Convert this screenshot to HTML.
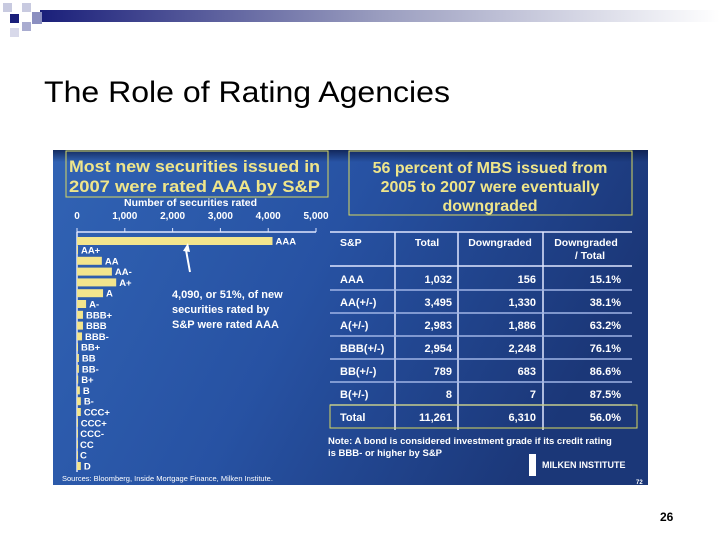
<!DOCTYPE html>
<html><head><meta charset="utf-8"><style>
body{margin:0;width:720px;height:540px;background:#fff;position:relative;overflow:hidden;font-family:"Liberation Sans",sans-serif}
svg text{font-family:"Liberation Sans",sans-serif}
</style></head><body>
<svg width="720" height="540">
<defs>
<linearGradient id="hb" x1="0" x2="1"><stop offset="0" stop-color="#1a1f7a"/><stop offset="0.5" stop-color="#9a9dbf"/><stop offset="1" stop-color="#ffffff"/></linearGradient>
<linearGradient id="bg" x1="0" y1="0" x2="1" y2="0.3"><stop offset="0" stop-color="#3163b4"/><stop offset="0.5" stop-color="#2752a3"/><stop offset="1" stop-color="#1b3778"/></linearGradient>
<linearGradient id="top" x1="0" y1="0" x2="0" y2="1"><stop offset="0" stop-color="#0d1d4a" stop-opacity="0.8"/><stop offset="1" stop-color="#0d1d4a" stop-opacity="0"/></linearGradient>
</defs>
<g>
<rect x="40" y="10" width="680" height="12" fill="url(#hb)"/>
<rect x="10" y="14" width="9" height="9" fill="#1a1f7a"/>
<rect x="3" y="3" width="9" height="9" fill="#c8cae0"/>
<rect x="22" y="3" width="9" height="9" fill="#c8cae0"/>
<rect x="22" y="22" width="9" height="9" fill="#a9acd0"/>
<rect x="32" y="12" width="10" height="12" fill="#8b8fc0"/>
<rect x="10" y="28" width="9" height="9" fill="#d8d9ea"/>
</g>
<text x="44" y="102" font-size="30" fill="#000" textLength="406" lengthAdjust="spacingAndGlyphs">The Role of Rating Agencies</text>
<g>
<rect x="53" y="150" width="595" height="335" fill="url(#bg)"/>
<rect x="53" y="150" width="595" height="12" fill="url(#top)"/>
<rect x="66" y="151" width="262" height="46" fill="none" stroke="#d8d860" stroke-width="1"/>
<text x="69" y="172" font-size="16.5" font-weight="bold" fill="#efe58a" textLength="251" lengthAdjust="spacingAndGlyphs">Most new securities issued in</text>
<text x="69" y="192" font-size="16.5" font-weight="bold" fill="#efe58a" textLength="251" lengthAdjust="spacingAndGlyphs">2007 were rated AAA by S&amp;P</text>
<text x="124" y="206" font-size="10.5" font-weight="bold" fill="#fff">Number of securities rated</text>
<g id="xt"></g>
<g id="bars"></g>
<line x1="186" y1="250" x2="190" y2="272" stroke="#fff" stroke-width="2"/>
<polygon points="183,251 188,243 190,252" fill="#fff"/>
<text x="172" y="298" font-size="11" font-weight="bold" fill="#fff">4,090, or 51%, of new</text>
<text x="172" y="313" font-size="11" font-weight="bold" fill="#fff">securities rated by</text>
<text x="172" y="328" font-size="11" font-weight="bold" fill="#fff">S&amp;P were rated AAA</text>
<text x="62" y="481" font-size="7.5" fill="#fff">Sources: Bloomberg, Inside Mortgage Finance, Milken Institute.</text>

<rect x="349" y="151" width="283" height="64" fill="none" stroke="#d8d860"/>
<text x="490" y="173" text-anchor="middle" font-size="16" font-weight="bold" fill="#efe58a">56 percent of MBS issued from</text>
<text x="490" y="192" text-anchor="middle" font-size="16" font-weight="bold" fill="#efe58a">2005 to 2007 were eventually</text>
<text x="490" y="211" text-anchor="middle" font-size="16" font-weight="bold" fill="#efe58a">downgraded</text>
<g id="tbl"></g>
<text x="328" y="444" font-size="9.5" font-weight="bold" fill="#fff">Note: A bond is considered investment grade if its credit rating</text>
<text x="328" y="456" font-size="9.5" font-weight="bold" fill="#fff">is BBB- or higher by S&amp;P</text>
<rect x="529" y="454" width="7" height="22" fill="#fff"/>
<text x="542" y="468" font-size="9" font-weight="bold" fill="#fff" font-family="Liberation Serif">MILKEN INSTITUTE</text>
<text x="636" y="484" font-size="6" font-weight="bold" fill="#fff">72</text>
</g>
<text x="660" y="521" font-size="12" font-weight="bold" fill="#000">26</text>
</svg>
<script>
const ratings=["AAA","AA+","AA","AA-","A+","A","A-","BBB+","BBB","BBB-","BB+","BB","BB-","B+","B","B-","CCC+","CCC+","CCC-","CC","C","D"];
const counts=[4090,20,520,730,820,545,190,125,125,105,20,40,40,25,60,80,80,15,5,0,0,80];
const ticks=[0,1000,2000,3000,4000,5000];
const tickLabels=["0","1,000","2,000","3,000","4,000","5,000"];
const tHead=["S&P","Total","Downgraded","Downgraded / Total"];
const tRat=["AAA","AA(+/-)","A(+/-)","BBB(+/-)","BB(+/-)","B(+/-)","Total"];
const tTotal=["1,032","3,495","2,983","2,954","789","8","11,261"];
const tDown=["156","1,330","1,886","2,248","683","7","6,310"];
const tPct=["15.1%","38.1%","63.2%","76.1%","86.6%","87.5%","56.0%"];
const NS="http://www.w3.org/2000/svg";
function mk(t,a,p,txt){const e=document.createElementNS(NS,t);for(const k in a)e.setAttribute(k,a[k]);if(txt!=null)e.textContent=txt;p.appendChild(e);return e;}
const x=v=>77+v*(239/5000);
const yRow=i=>i==0?237:250+(i-1)*10.8-4;
const xt=document.getElementById('xt');
mk('line',{x1:77,y1:232,x2:x(5000),y2:232,stroke:'#dfe6ff','stroke-width':1.5},xt);
mk('line',{x1:77,y1:232,x2:77,y2:472,stroke:'#dfe6ff','stroke-width':1.5},xt);
ticks.forEach((t,i)=>{
 mk('line',{x1:x(t),y1:228,x2:x(t),y2:232,stroke:'#dfe6ff'},xt);
 const e=mk('text',{x:x(t),y:219,'font-size':10,'font-weight':'bold',fill:'#fff','text-anchor':'middle'},xt,tickLabels[i]);
 
 
});
const bars=document.getElementById('bars');
ratings.forEach((r,i)=>{
 const y=yRow(i),h=8;
 const b=mk('rect',{x:77,y:y,width:Math.max(x(counts[i])-77,1),height:h,fill:'#f3e58d'},bars);
 
 
 const l=mk('text',{x:x(counts[i])+3,y:y+7.5,'font-size':9.5,'font-weight':'bold',fill:'#fff'},bars,r);
 
 
});
const tb=document.getElementById('tbl');
mk('line',{x1:330,y1:232,x2:632,y2:232,stroke:'#dfe6ff','stroke-width':1.5},tb);
mk('line',{x1:330,y1:266,x2:632,y2:266,stroke:'#dfe6ff','stroke-width':1.5},tb);
[395,458,543].forEach(c=>mk('line',{x1:c,y1:232,x2:c,y2:430,stroke:'#dfe6ff','stroke-width':1.5},tb));
mk('text',{x:340,y:246,'font-size':10.5,'font-weight':'bold',fill:'#fff'},tb,tHead[0]);
mk('text',{x:427,y:246,'font-size':10.5,'font-weight':'bold',fill:'#fff','text-anchor':'middle'},tb,tHead[1]);
mk('text',{x:500,y:246,'font-size':10.5,'font-weight':'bold',fill:'#fff','text-anchor':'middle'},tb,tHead[2]);
mk('text',{x:586,y:246,'font-size':10.5,'font-weight':'bold',fill:'#fff','text-anchor':'middle'},tb,"Downgraded");
mk('text',{x:590,y:259,'font-size':10.5,'font-weight':'bold',fill:'#fff','text-anchor':'middle'},tb,"/ Total");
tRat.forEach((r,i)=>{
 const y0=267+i*23;
 if(i<6) mk('line',{x1:330,y1:y0+23,x2:632,y2:y0+23,stroke:'#9fb4e6','stroke-width':1.5},tb);
 const yy=y0+16;
 const c1=mk('text',{x:340,y:yy,'font-size':11,'font-weight':'bold',fill:'#fff'},tb,r);
 
 
 mk('text',{x:452,y:yy,'font-size':11,'font-weight':'bold',fill:'#fff','text-anchor':'end'},tb,tTotal[i]);
 mk('text',{x:536,y:yy,'font-size':11,'font-weight':'bold',fill:'#fff','text-anchor':'end'},tb,tDown[i]);
 mk('text',{x:621,y:yy,'font-size':11,'font-weight':'bold',fill:'#fff','text-anchor':'end'},tb,tPct[i]);
});
const tr=mk('rect',{x:330,y:405,width:307,height:23,fill:'none',stroke:'#d8d860'},tb);


</script>
</body></html>
